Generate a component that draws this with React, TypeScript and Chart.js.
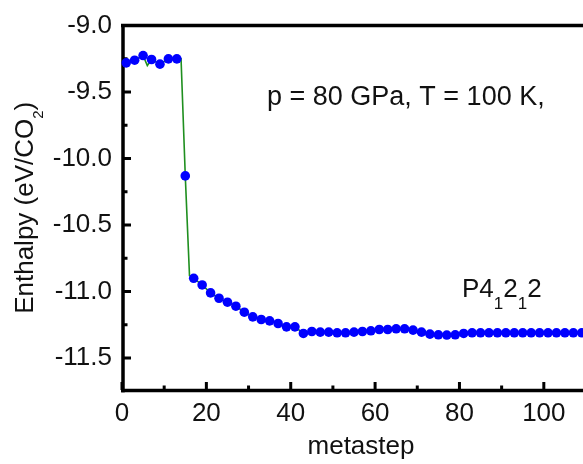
import React, { useEffect, useRef } from 'react';
import { Chart, registerables } from 'chart.js';

Chart.register(...registerables);

// ---- data ----
const dotSteps = [
  1, 3, 5, 7, 9, 11, 13, 15, 17, 19, 21, 23, 25, 27, 29, 31, 33, 35, 37, 39,
  41, 43, 45, 47, 49, 51, 53, 55, 57, 59, 61, 63, 65, 67, 69, 71, 73, 75, 77,
  79, 81, 83, 85, 87, 89, 91, 93, 95, 97, 99, 101, 103, 105, 107, 109,
];
const dotEnthalpy = [
  -9.28, -9.26, -9.225, -9.255, -9.29, -9.25, -9.25, -10.13, -10.9, -10.95,
  -11.01, -11.05, -11.08, -11.11, -11.155, -11.19, -11.21, -11.22, -11.24,
  -11.265, -11.265, -11.315, -11.3, -11.305, -11.305, -11.31, -11.31, -11.305,
  -11.3, -11.295, -11.285, -11.285, -11.28, -11.28, -11.29, -11.305, -11.32,
  -11.325, -11.327, -11.325, -11.315, -11.31, -11.31, -11.31, -11.31, -11.31,
  -11.31, -11.31, -11.31, -11.31, -11.31, -11.31, -11.31, -11.31, -11.31,
];
// extra vertices of the green connecting line (between plotted dots)
const lineExtraSteps = [6, 14, 16];
const lineExtraEnthalpy = [-9.3, -9.25, -10.88];

const xMajorTicks = [0, 20, 40, 60, 80, 100];
const xMinorTicks = [10, 30, 50, 70, 90];
const yMajorTicks = [-9.0, -9.5, -10.0, -10.5, -11.0, -11.5];
const yMinorTicks = [-9.25, -9.75, -10.25, -10.75, -11.25];
const xMin = 0;
const xMax = 110;
const yMin = -11.74;
const yMax = -9.0;

const xTitle = 'metastep';
const yTitleParts: [string, boolean][] = [
  ['Enthalpy (eV/CO', false],
  ['2', true],
  [')', false],
];
const conditionText = 'p = 80 GPa, T = 100 K,';
const phaseParts: [string, boolean][] = [
  ['P4', false],
  ['1', true],
  ['2', false],
  ['1', true],
  ['2', false],
];

const FONT = "'Liberation Sans', Arial, Helvetica, sans-serif";

function drawParts(
  ctx: CanvasRenderingContext2D,
  parts: [string, boolean][],
  x: number,
  y: number,
  mainSize: number,
  subSize: number,
  subOffset: number,
  align: 'left' | 'center'
) {
  const widths = parts.map(([t, sub]) => {
    ctx.font = `${sub ? subSize : mainSize}px ${FONT}`;
    return ctx.measureText(t).width;
  });
  const total = widths.reduce((a, b) => a + b, 0);
  let cx = align === 'center' ? x - total / 2 : x;
  ctx.textAlign = 'left';
  ctx.textBaseline = 'alphabetic';
  parts.forEach(([t, sub], i) => {
    ctx.font = `${sub ? subSize : mainSize}px ${FONT}`;
    ctx.fillText(t, cx, sub ? y + subOffset : y);
    cx += widths[i];
  });
}

const framePlugin = {
  id: 'frameAndTicks',
  beforeDatasetsDraw(chart: any) {
    const { ctx, chartArea, scales } = chart;
    const xs = scales.x;
    const ys = scales.y;
    ctx.save();
    ctx.strokeStyle = '#000';
    ctx.lineCap = 'butt';
    // frame
    ctx.lineWidth = 3.5;
    ctx.beginPath();
    ctx.moveTo(chartArea.left + 1, chartArea.top - 1.5);
    ctx.lineTo(chartArea.left + 1, chartArea.bottom + 2.5);
    ctx.moveTo(chartArea.left - 1, chartArea.bottom + 0.5);
    ctx.lineTo(chartArea.right + 20, chartArea.bottom + 0.5);
    ctx.moveTo(chartArea.left - 1, chartArea.top);
    ctx.lineTo(chartArea.right + 20, chartArea.top);
    ctx.stroke();
    // ticks (inward)
    ctx.lineWidth = 3;
    ctx.beginPath();
    xMajorTicks.forEach((v) => {
      const px = xs.getPixelForValue(v);
      ctx.moveTo(px, chartArea.bottom);
      ctx.lineTo(px, chartArea.bottom - 8);
    });
    xMinorTicks.forEach((v) => {
      const px = xs.getPixelForValue(v);
      ctx.moveTo(px, chartArea.bottom);
      ctx.lineTo(px, chartArea.bottom - 4.5);
    });
    yMajorTicks.forEach((v) => {
      const py = ys.getPixelForValue(v);
      ctx.moveTo(chartArea.left + 2, py);
      ctx.lineTo(chartArea.left + 9, py);
    });
    yMinorTicks.forEach((v) => {
      const py = ys.getPixelForValue(v);
      ctx.moveTo(chartArea.left + 2, py);
      ctx.lineTo(chartArea.left + 5.5, py);
    });
    ctx.stroke();
    ctx.restore();
  },
  afterDraw(chart: any) {
    const { ctx, chartArea } = chart;
    ctx.save();
    ctx.fillStyle = '#111';
    // x title
    ctx.font = `26px ${FONT}`;
    ctx.textAlign = 'center';
    ctx.textBaseline = 'alphabetic';
    ctx.fillText(xTitle, 361, 454);
    // y title (rotated), centred on the plot area
    ctx.save();
    ctx.translate(33, (chartArea.top + chartArea.bottom) / 2);
    ctx.rotate(-Math.PI / 2);
    drawParts(ctx, yTitleParts, 0, 0, 26, 15, 10, 'center');
    ctx.restore();
    // condition annotation
    ctx.font = `27px ${FONT}`;
    ctx.textAlign = 'left';
    ctx.fillText(conditionText, 267, 105);
    // phase label
    drawParts(ctx, phaseParts, 462, 297, 26, 17, 12, 'left');
    ctx.restore();
  },
};

export default function App() {
  const canvasRef = useRef<HTMLCanvasElement | null>(null);

  useEffect(() => {
    if (!canvasRef.current) return;
    const steps = [...dotSteps, ...lineExtraSteps];
    const vals = [...dotEnthalpy, ...lineExtraEnthalpy];
    const linePts = steps
      .map((s, i) => ({ x: s, y: vals[i] }))
      .sort((a, b) => a.x - b.x);
    const dotPts = dotSteps.map((s, i) => ({ x: s, y: dotEnthalpy[i] }));

    const chart = new Chart(canvasRef.current, {
      type: 'scatter',
      data: {
        datasets: [
          {
            label: 'dots',
            data: dotPts,
            showLine: false,
            pointRadius: 4.8,
            pointBackgroundColor: '#0000ff',
            pointBorderColor: '#0000ff',
            pointBorderWidth: 0,
            clip: false as any,
          },
          {
            label: 'line',
            data: linePts,
            showLine: true,
            pointRadius: 0,
            borderColor: '#1f8f1f',
            borderWidth: 1.6,
            clip: false as any,
          },
        ],
      },
      options: {
        responsive: false,
        animation: false,
        events: [],
        layout: { padding: { top: 21, right: 14, left: 0, bottom: 0 } },
        plugins: {
          legend: { display: false },
          tooltip: { enabled: false },
          title: { display: false },
        },
        scales: {
          x: {
            type: 'linear',
            min: xMin,
            max: xMax,
            afterBuildTicks: (scale: any) => {
              scale.ticks = xMajorTicks.map((v) => ({ value: v }));
            },
            afterFit: (scale: any) => {
              scale.height = 74;
            },
            grid: { display: false, drawTicks: false },
            border: { display: false },
            ticks: {
              padding: 8,
              color: '#111',
              font: { family: FONT, size: 26 },
              maxRotation: 0,
              callback: (v: any) => String(v),
            },
          },
          y: {
            type: 'linear',
            min: yMin,
            max: yMax,
            afterBuildTicks: (scale: any) => {
              scale.ticks = yMajorTicks.map((v) => ({ value: v }));
            },
            afterFit: (scale: any) => {
              scale.width = 122;
            },
            grid: { display: false, drawTicks: false },
            border: { display: false },
            ticks: {
              padding: 10,
              color: '#111',
              font: { family: FONT, size: 26 },
              callback: (v: any) => Number(v).toFixed(1),
            },
          },
        },
      },
      plugins: [framePlugin],
    });
    return () => chart.destroy();
  }, []);

  return (
    <div
      style={{
        position: 'fixed',
        left: 0,
        top: 0,
        width: 583,
        height: 464,
        overflow: 'hidden',
        background: '#fff',
      }}
    >
      <canvas ref={canvasRef} width={600} height={464} style={{ display: 'block' }} />
    </div>
  );
}
